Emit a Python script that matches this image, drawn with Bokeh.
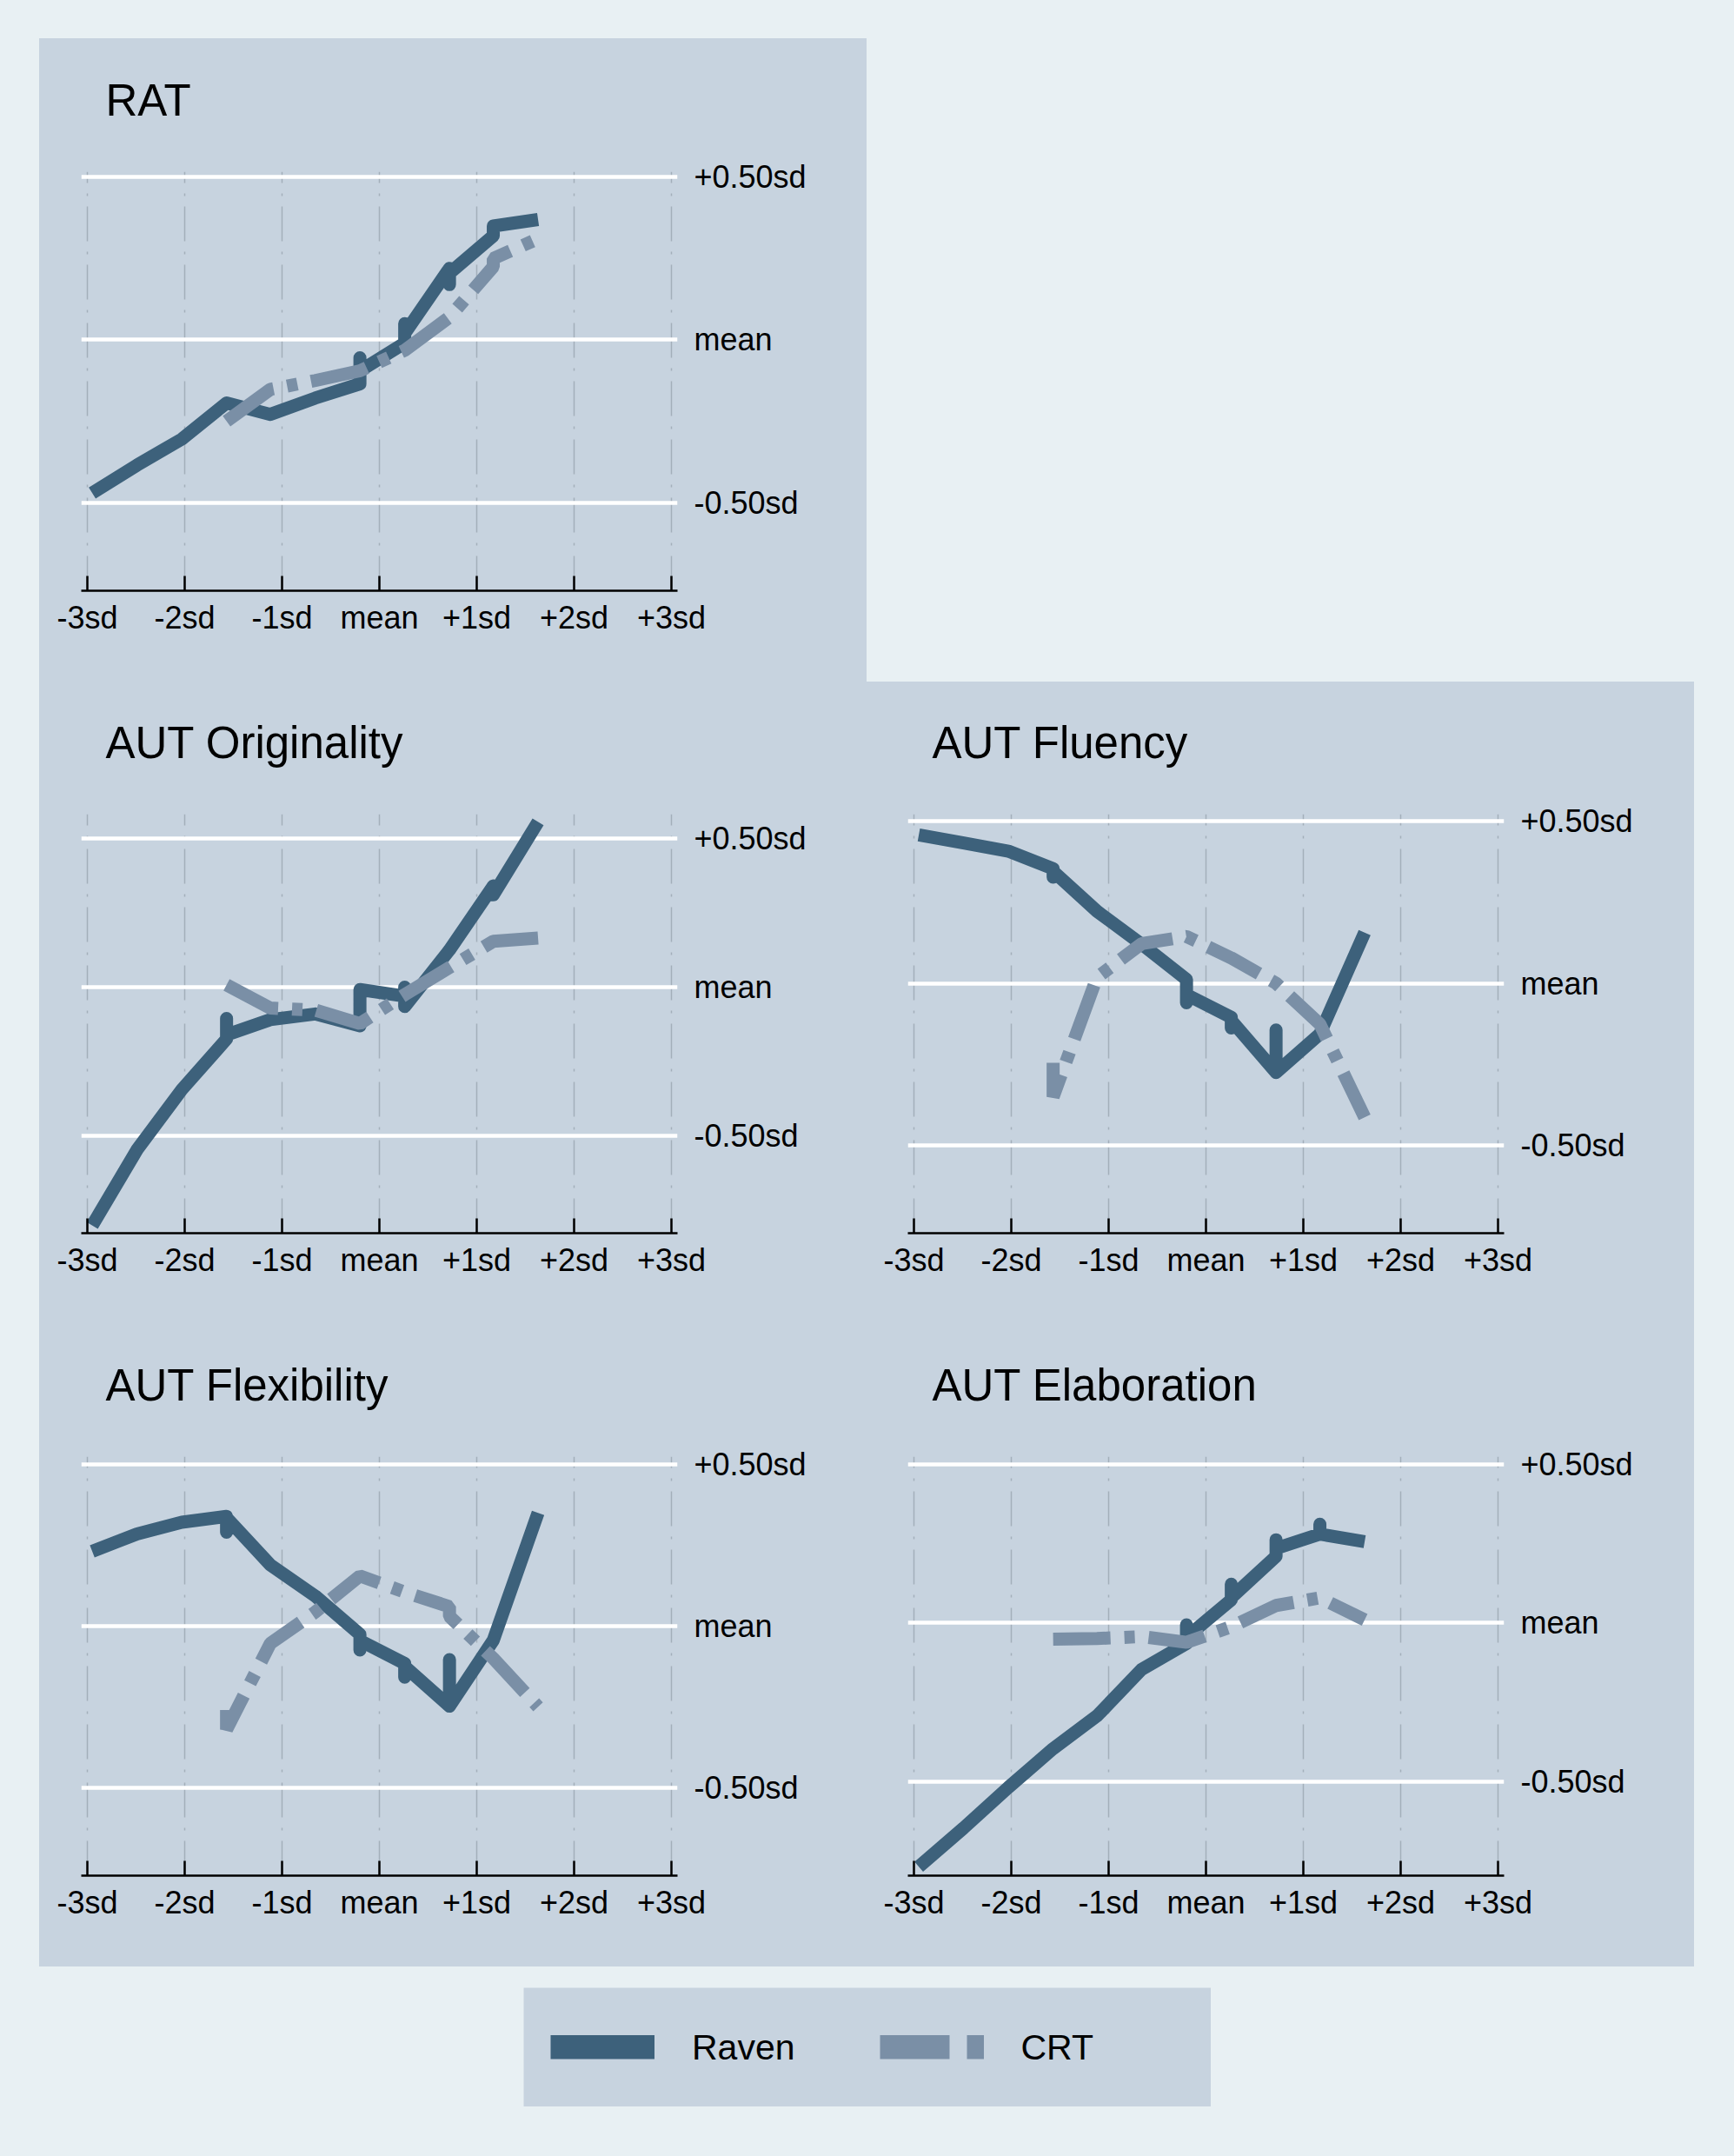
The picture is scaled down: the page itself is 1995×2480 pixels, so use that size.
from bokeh.plotting import figure
from bokeh.models import Range1d, FixedTicker, Spacer, Legend, LegendItem, Title
from bokeh.layouts import row, column
from bokeh.embed import file_html
from bokeh.resources import INLINE

PAGE = "#e8f0f3"
PANEL = "#c7d3df"
RAVEN_C = "#3d617b"
CRT_C = "#7a8fa6"
VGRID_C = "#a3afba"
FONT = "Liberation Sans"

X_TICKS = [-3, -2, -1, 0, 1, 2, 3]
X_LABELS = ["-3sd", "-2sd", "-1sd", "mean", "+1sd", "+2sd", "+3sd"]
Y_TICKS = [-0.5, 0, 0.5]
Y_LABELS = ["-0.50sd", "mean", "+0.50sd"]

TITLES = ["RAT", "AUT Originality", "AUT Fluency", "AUT Flexibility", "AUT Elaboration"]
SERIES = ["Raven", "CRT"]

# RAT
rat_raven_x = [-2.95, -2.49, -2.03, -1.57, -1.12, -0.66, -0.20, -0.20, -0.20, 0.26, 0.26, 0.26, 0.72, 0.72, 0.72, 1.17, 1.17, 1.63]
rat_raven_y = [-0.471, -0.385, -0.305, -0.194, -0.229, -0.179, -0.135, -0.055, -0.095, -0.010, 0.050, 0.020, 0.220, 0.170, 0.205, 0.320, 0.350, 0.370]
rat_crt_x = [-1.57, -1.12, -0.66, -0.20, 0.26, 0.72, 1.17, 1.17, 1.63]
rat_crt_y = [-0.250, -0.152, -0.125, -0.095, -0.032, 0.070, 0.225, 0.250, 0.311]

# AUT Originality
ori_raven_x = [-2.95, -2.49, -2.03, -1.57, -1.57, -1.57, -1.12, -0.66, -0.20, -0.20, 0.26, 0.26, 0.26, 0.72, 1.17, 1.17, 1.63]
ori_raven_y = [-0.800, -0.546, -0.344, -0.174, -0.105, -0.160, -0.109, -0.090, -0.130, -0.008, -0.030, 0.000, -0.065, 0.125, 0.340, 0.310, 0.555]
ori_crt_x = [-1.57, -1.12, -0.66, -0.20, 0.26, 0.72, 1.17, 1.63]
ori_crt_y = [0.008, -0.070, -0.077, -0.122, -0.025, 0.066, 0.154, 0.165]

# AUT Fluency
flu_raven_x = [-2.95, -2.49, -2.03, -1.57, -1.57, -1.57, -1.12, -0.66, -0.20, -0.20, -0.20, 0.26, 0.26, 0.26, 0.72, 0.72, 0.72, 1.17, 1.63]
flu_raven_y = [0.457, 0.432, 0.407, 0.353, 0.327, 0.345, 0.222, 0.120, 0.012, -0.060, -0.035, -0.105, -0.138, -0.115, -0.275, -0.144, -0.275, -0.156, 0.156]
flu_crt_x = [-1.57, -1.57, -1.12, -0.66, -0.20, 0.26, 0.72, 1.17, 1.63]
flu_crt_y = [-0.245, -0.350, 0.018, 0.122, 0.144, 0.078, 0.000, -0.126, -0.413]

# AUT Flexibility
flx_raven_x = [-2.95, -2.49, -2.03, -1.57, -1.57, -1.57, -1.12, -0.66, -0.20, -0.20, -0.20, 0.26, 0.26, 0.26, 0.72, 0.72, 0.72, 1.17, 1.63]
flx_raven_y = [0.231, 0.285, 0.321, 0.339, 0.290, 0.335, 0.189, 0.093, -0.026, -0.074, -0.045, -0.116, -0.158, -0.125, -0.248, -0.104, -0.248, -0.044, 0.350]
flx_crt_x = [-1.57, -1.57, -1.12, -0.66, -0.20, 0.26, 0.72, 0.72, 1.17, 1.63]
flx_crt_y = [-0.260, -0.320, -0.054, 0.043, 0.155, 0.105, 0.060, 0.030, -0.100, -0.250]

# AUT Elaboration
ela_raven_x = [-2.95, -2.49, -2.03, -1.57, -1.12, -0.66, -0.20, -0.20, -0.20, 0.26, 0.26, 0.26, 0.72, 0.72, 0.72, 1.17, 1.17, 1.17, 1.63]
ela_raven_y = [-0.768, -0.646, -0.518, -0.396, -0.293, -0.146, -0.065, -0.006, -0.045, 0.073, 0.122, 0.080, 0.210, 0.262, 0.235, 0.280, 0.311, 0.280, 0.256]
ela_crt_x = [-1.57, -1.12, -0.66, -0.20, 0.26, 0.72, 1.17, 1.63]
ela_crt_y = [-0.051, -0.049, -0.043, -0.061, -0.012, 0.055, 0.079, 0.010]

# y-axis extents of each panel (in sd units)
rat_yrange = (-0.771, 0.517)
ori_yrange = (-0.826, 0.581)
flu_yrange = (-0.770, 0.521)
flx_yrange = (-0.772, 0.524)
ela_yrange = (-0.796, 0.524)


def panel(title, rx, ry, cx, cy, yr, left, right, height, top, bottom):
    p = figure(width=left + 686 + right, height=height,
               x_range=Range1d(-3.0625, 3.0625), y_range=Range1d(*yr),
               y_axis_location="right", output_backend="svg", toolbar_location=None,
               min_border_left=left, min_border_right=right,
               min_border_top=top, min_border_bottom=bottom,
               background_fill_color=PANEL, border_fill_color=PANEL,
               outline_line_color=None)
    # empty gap between the frame and the panel title
    p.add_layout(Title(text=" ", text_font_size="2px", standoff=50), "above")
    p.title.text = title
    p.title.align = "left"
    p.title.offset = 28
    p.title.standoff = 0
    p.title.text_font = FONT
    p.title.text_font_size = "51px"
    p.title.text_font_style = "normal"
    p.title.text_color = "black"

    xa = p.xaxis[0]
    xa.ticker = FixedTicker(ticks=X_TICKS)
    xa.major_label_overrides = {t: l for t, l in zip(X_TICKS, X_LABELS)}
    xa.axis_line_color = "black"
    xa.axis_line_width = 2.5
    xa.major_tick_line_color = "black"
    xa.major_tick_line_width = 2.5
    xa.major_tick_in = 17
    xa.major_tick_out = 0
    xa.minor_tick_line_color = None
    xa.major_label_standoff = 10
    xa.major_label_text_font = FONT
    xa.major_label_text_font_size = "36px"
    xa.major_label_text_color = "black"

    ya = p.yaxis[0]
    ya.ticker = FixedTicker(ticks=Y_TICKS)
    ya.major_label_overrides = {t: l for t, l in zip(Y_TICKS, Y_LABELS)}
    ya.axis_line_color = None
    ya.major_tick_line_color = None
    ya.major_tick_in = 0
    ya.major_tick_out = 0
    ya.minor_tick_line_color = None
    ya.major_label_standoff = 19
    ya.major_label_text_font = FONT
    ya.major_label_text_font_size = "36px"
    ya.major_label_text_color = "black"

    p.xgrid.grid_line_color = VGRID_C
    p.xgrid.grid_line_width = 1.5
    p.xgrid.grid_line_dash = "40 12 3 12"
    p.ygrid.grid_line_color = "white"
    p.ygrid.grid_line_width = 4.5

    p.line(rx, ry, line_color=RAVEN_C, line_width=15, line_join="round", line_cap="butt")
    p.line(cx, cy, line_color=CRT_C, line_width=15, line_join="bevel", line_cap="butt",
           line_dash="66 16 12 16")
    return p


rat = panel(TITLES[0], rat_raven_x, rat_raven_y, rat_crt_x, rat_crt_y, rat_yrange, 48, 218, 740, 153, 105)
ori = panel(TITLES[1], ori_raven_x, ori_raven_y, ori_crt_x, ori_crt_y, ori_yrange, 48, 218, 739, 152, 105)
flu = panel(TITLES[2], flu_raven_x, flu_raven_y, flu_crt_x, flu_crt_y, flu_yrange, 47, 219, 739, 152, 105)
flx = panel(TITLES[3], flx_raven_x, flx_raven_y, flx_crt_x, flx_crt_y, flx_yrange, 48, 218, 739, 152, 105)
ela = panel(TITLES[4], ela_raven_x, ela_raven_y, ela_crt_x, ela_crt_y, ela_yrange, 47, 219, 739, 152, 105)

# legend box
lg = figure(width=791, height=137, x_range=Range1d(0, 1), y_range=Range1d(0, 1),
            x_axis_location=None, y_axis_location=None,
            output_backend="svg", toolbar_location=None,
            min_border=0, background_fill_color=PANEL, border_fill_color=PANEL,
            outline_line_color=None)
lg.grid.visible = False
# key renderers kept outside the visible range: only their legend glyphs show
r1 = lg.line([5, 6], [5, 6], line_color=RAVEN_C, line_width=28)
r2 = lg.line([5, 6], [5, 6], line_color=CRT_C, line_width=28, line_dash="80 20 20 20")
leg = Legend(items=[LegendItem(label=SERIES[0], renderers=[r1]),
                    LegendItem(label=SERIES[1], renderers=[r2])],
             orientation="horizontal", location="left",
             glyph_width=120, glyph_height=28, label_standoff=43, spacing=97,
             padding=0, margin=31, background_fill_alpha=0, border_line_color=None,
             label_text_font=FONT, label_text_font_size="41px", label_text_color="black")
lg.add_layout(leg)

block = column(
    row(rat, Spacer(width=952, height=740, styles={"background-color": PAGE})),
    row(ori, flu),
    row(flx, ela),
    styles={"background-color": PANEL},
)

page = column(
    Spacer(width=1995, height=44),
    row(Spacer(width=45, height=2218), block, Spacer(width=46, height=2218)),
    Spacer(width=1995, height=24),
    row(Spacer(width=602, height=137), lg, Spacer(width=602, height=137)),
    Spacer(width=1995, height=57),
    styles={"background-color": PAGE},
)

open("out.html", "w").write(file_html(page, INLINE))
